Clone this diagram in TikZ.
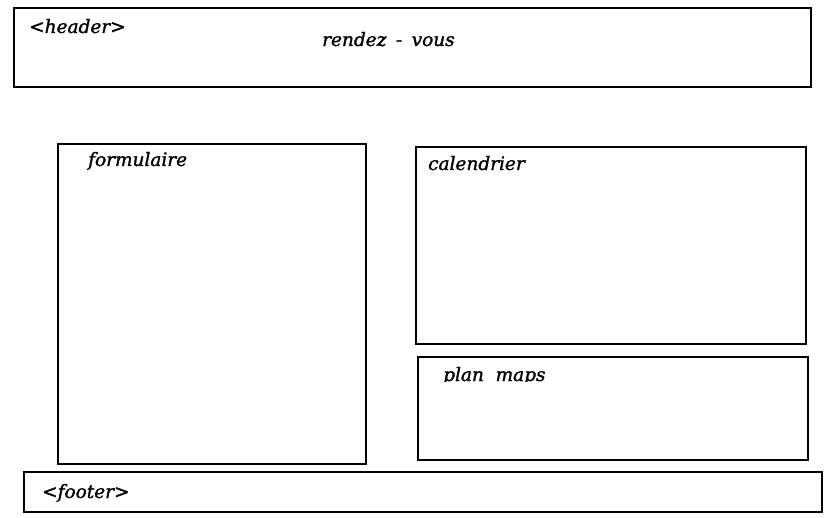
\documentclass[tikz,border=0pt]{standalone}
\usepackage{fontspec}
\setmainfont{DejaVu Serif}[ItalicFeatures={FakeBold=1.5}]
\begin{document}
\begin{tikzpicture}[x=1pt,y=-1pt,
  box/.style={draw=black, line width=2.6pt, rectangle, inner sep=0pt, outer sep=0pt, anchor=north west},
  lbl/.style={inner sep=0pt, anchor=base west, font=\fontsize{18.5}{20}\selectfont\itshape}]
\useasboundingbox (0,0) rectangle (837,518);
\node[box, minimum width=797pt, minimum height=79pt] (header) at (14,8) {};
\node[box, minimum width=308pt, minimum height=320pt] (form) at (58,144) {};
\node[box, minimum width=390pt, minimum height=197pt] (cal) at (416,147) {};
\node[box, minimum width=390pt, minimum height=103pt] (plan) at (418,357) {};
\node[box, minimum width=798pt, minimum height=40pt] (footer) at (24,472) {};
\node[lbl] (th) at (29,33) {<header>};
\node[lbl] (tr) at (322,46) {rendez\hspace{9.5pt}-\hspace{9.5pt}vous};
\node[lbl] (tf) at (88,166) {formulaire};
\node[lbl] (tc) at (428,170) {calendrier};
\begin{scope}
\clip (420,359) rectangle (806,381.5);
\node[lbl] (tp) at (443,381) {plan\ \ maps};
\end{scope}
\node[lbl] (tfo) at (42,498) {<footer>};
\end{tikzpicture}
\end{document}
